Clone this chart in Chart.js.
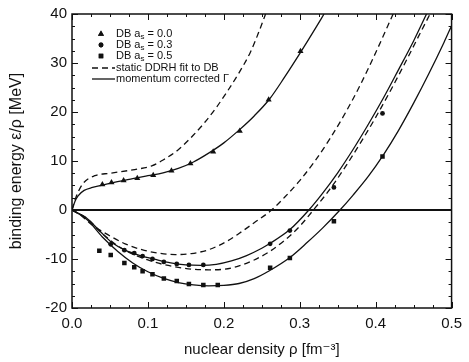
<!DOCTYPE html>
<html>
<head>
<meta charset="utf-8">
<script src="https://cdn.jsdelivr.net/npm/chart.js@4/dist/chart.umd.min.js"></script>
<style>
  html, body { margin: 0; padding: 0; background: #fff; }
  #wrap { width: 469px; height: 362px; }
</style>
</head>
<body>
<div id="wrap"><canvas id="c" width="469" height="362"></canvas></div>
<script>
// tick labels
var xTicks = [0, 0.1, 0.2, 0.3, 0.4, 0.5];
var xTickLabels = ['0.0', '0.1', '0.2', '0.3', '0.4', '0.5'];
var yTicks = [-20, -10, 0, 10, 20, 30, 40];
var yTickLabels = ['-20', '-10', '0', '10', '20', '30', '40'];

// DB points
var rhoTri = [0.040, 0.052, 0.068, 0.086, 0.107, 0.131, 0.156, 0.186, 0.221, 0.259, 0.301];
var dbA00 = [5.2, 5.6, 6.0, 6.5, 7.1, 8.0, 9.5, 11.9, 16.1, 22.5, 32.4];

var rhoDot = [0.051, 0.069, 0.082, 0.093, 0.106, 0.121, 0.138, 0.154, 0.173, 0.261, 0.287, 0.345, 0.409];
var dbA03 = [-7.0, -8.2, -8.8, -9.4, -10.0, -10.6, -11.0, -11.2, -11.2, -6.9, -4.2, 4.6, 19.7];

var rhoSq = [0.036, 0.051, 0.069, 0.082, 0.093, 0.106, 0.121, 0.138, 0.154, 0.173, 0.192, 0.261, 0.287, 0.345, 0.409];
var dbA05 = [-8.3, -9.2, -10.8, -11.7, -12.5, -13.1, -14.0, -14.5, -15.1, -15.3, -15.3, -11.8, -9.8, -2.3, 10.9];

// static DDRH fits (dashed)
var rhoS0 = [0, 0.005, 0.014, 0.03, 0.05, 0.08, 0.105, 0.12, 0.14, 0.16, 0.175, 0.19, 0.205, 0.22, 0.235, 0.245, 0.255];
var fitS0 = [0, 2.5, 5.3, 7.0, 7.5, 8.2, 9.0, 10.2, 12.3, 15.3, 17.9, 20.9, 24.3, 28.0, 32.2, 35.9, 40];

var rhoS3 = [0, 0.01, 0.027, 0.049, 0.07, 0.092, 0.114, 0.136, 0.157, 0.18, 0.205, 0.22, 0.24, 0.263, 0.28, 0.30, 0.32, 0.34, 0.36, 0.38, 0.40, 0.423];
var fitS3 = [0, -0.9, -3.1, -5.2, -6.9, -8.1, -8.8, -9.1, -8.9, -8.1, -6.3, -4.8, -2.6, 0, 2.6, 6.0, 10.0, 14.6, 19.8, 25.6, 32.1, 40];

var rhoS5 = [0, 0.02, 0.04, 0.06, 0.08, 0.1, 0.12, 0.14, 0.16, 0.18, 0.2, 0.22, 0.24, 0.26, 0.28, 0.30, 0.318, 0.34, 0.36, 0.38, 0.40, 0.42, 0.44, 0.46, 0.473];
var fitS5 = [0, -1.8, -4.8, -7.3, -9.0, -10.2, -11.1, -11.7, -12.1, -12.2, -12.1, -11.4, -10.2, -8.5, -6.2, -3.3, 0, 4.3, 8.8, 13.7, 18.9, 24.5, 30.4, 36.5, 40.4];

// momentum corrected (solid)
var rhoC0 = [0, 0.004, 0.008, 0.016, 0.027, 0.04, 0.06, 0.08, 0.10, 0.12, 0.14, 0.16, 0.18, 0.20, 0.22, 0.24, 0.26, 0.28, 0.30, 0.32, 0.332];
var fitC0 = [0, 1.8, 2.9, 4.0, 4.6, 5.1, 5.8, 6.4, 7.0, 7.6, 8.5, 9.8, 11.6, 13.7, 16.3, 19.2, 22.6, 27.1, 31.9, 36.9, 40];

var rhoC3 = [0, 0.018, 0.036, 0.053, 0.07, 0.09, 0.11, 0.13, 0.15, 0.17, 0.19, 0.21, 0.23, 0.25, 0.26, 0.287, 0.312, 0.33, 0.35, 0.37, 0.39, 0.41, 0.43, 0.45, 0.467];
var fitC3 = [0, -1.5, -4.2, -6.7, -8.2, -9.3, -10.1, -10.8, -11.2, -11.3, -11.1, -10.4, -9.3, -7.8, -6.9, -4.0, 0, 3.4, 7.6, 12.3, 17.4, 22.8, 28.6, 34.5, 40];

var rhoC5 = [0, 0.02, 0.04, 0.06, 0.08, 0.1, 0.12, 0.14, 0.16, 0.18, 0.2, 0.22, 0.24, 0.26, 0.287, 0.31, 0.33, 0.353, 0.37, 0.39, 0.41, 0.43, 0.45, 0.47, 0.49, 0.5];
var fitC5 = [0, -2.0, -5.5, -8.4, -10.8, -12.6, -13.9, -14.8, -15.3, -15.5, -15.4, -15.0, -14.0, -12.4, -9.7, -6.6, -3.7, 0, 3.0, 6.8, 11.2, 16.2, 21.8, 27.8, 34.2, 37.6];

var rhoZero = [0, 0.5];
var zeroLine = [0, 0];

function pts(xs, ys) {
  return xs.map(function (x, i) { return { x: x, y: ys[i] }; });
}

var ink = '#111';
var fontFam = '"Liberation Sans", Arial, "DejaVu Sans", sans-serif';

function curve(xs, ys, dashed) {
  return {
    data: pts(xs, ys), showLine: true, pointRadius: 0, borderColor: ink,
    borderWidth: 1.3, borderDash: dashed ? [6, 4] : [], fill: false,
    cubicInterpolationMode: 'monotone'
  };
}
function marks(xs, ys, style, r) {
  return {
    data: pts(xs, ys), showLine: false, pointStyle: style, pointRadius: r,
    backgroundColor: ink, borderColor: ink, borderWidth: 0
  };
}

// inward ticks on all four sides + frame + legend
var frame = {
  id: 'frame',
  afterDatasetsDraw: function (chart) {
    var ctx = chart.ctx, a = chart.chartArea;
    var xs = chart.scales.x, ys = chart.scales.y;
    ctx.save();
    ctx.strokeStyle = ink;
    ctx.lineWidth = 1;
    ctx.beginPath();
    var i, v, p, len;
    for (i = 0; i <= 20; i++) {
      v = i * 0.025;
      p = Math.round(xs.getPixelForValue(v)) + 0.5;
      len = (i % 4 === 0) ? 6 : 3;
      ctx.moveTo(p, a.bottom); ctx.lineTo(p, a.bottom - len);
      ctx.moveTo(p, a.top); ctx.lineTo(p, a.top + len);
    }
    for (i = 0; i <= 24; i++) {
      v = -20 + i * 2.5;
      p = Math.round(ys.getPixelForValue(v)) + 0.5;
      len = (i % 4 === 0) ? 6 : 3;
      ctx.moveTo(a.left, p); ctx.lineTo(a.left + len, p);
      ctx.moveTo(a.right, p); ctx.lineTo(a.right - len, p);
    }
    ctx.stroke();
    ctx.lineWidth = 1.5;
    ctx.strokeRect(a.left, a.top, a.right - a.left, a.bottom - a.top);

    // legend
    var lx = a.left, ty = a.top;
    var rows = [20, 31, 42, 54, 65];
    ctx.fillStyle = ink;
    ctx.textBaseline = 'middle';
    var labels = ['0.0', '0.3', '0.5'];
    var styles = ['triangle', 'circle', 'rect'];
    var radii = [3.5, 2.4, 3.2];
    for (i = 0; i < 3; i++) {
      var cy = ty + rows[i];
      Chart.helpers.drawPoint(ctx, { pointStyle: styles[i], radius: radii[i], borderWidth: 0 }, lx + 29, cy);
      ctx.fill();
      ctx.font = '11px ' + fontFam;
      var tx = lx + 44;
      ctx.fillText('DB a', tx, cy);
      tx += ctx.measureText('DB a').width;
      ctx.font = '8px ' + fontFam;
      ctx.fillText('s', tx, cy + 3);
      tx += ctx.measureText('s').width;
      ctx.font = '11px ' + fontFam;
      ctx.fillText(' = ' + labels[i], tx, cy);
    }
    ctx.lineWidth = 1.3;
    ctx.setLineDash([6, 4]);
    ctx.beginPath();
    ctx.moveTo(lx + 20, ty + rows[3]); ctx.lineTo(lx + 43, ty + rows[3]);
    ctx.stroke();
    ctx.setLineDash([]);
    ctx.beginPath();
    ctx.moveTo(lx + 20, ty + rows[4]); ctx.lineTo(lx + 43, ty + rows[4]);
    ctx.stroke();
    ctx.font = '11px ' + fontFam;
    ctx.fillText('static DDRH fit to DB', lx + 44, ty + rows[3]);
    ctx.fillText('momentum corrected \u0393', lx + 44, ty + rows[4]);
    ctx.restore();
  }
};

var zeroDs = curve(rhoZero, zeroLine, false);
zeroDs.borderWidth = 2;
zeroDs.cubicInterpolationMode = 'default';

new Chart(document.getElementById('c'), {
  type: 'scatter',
  data: {
    datasets: [
      zeroDs,
      curve(rhoS0, fitS0, true),
      curve(rhoS3, fitS3, true),
      curve(rhoS5, fitS5, true),
      curve(rhoC0, fitC0, false),
      curve(rhoC3, fitC3, false),
      curve(rhoC5, fitC5, false),
      marks(rhoTri, dbA00, 'triangle', 3.5),
      marks(rhoDot, dbA03, 'circle', 2.4),
      marks(rhoSq, dbA05, 'rect', 3.2)
    ]
  },
  options: {
    responsive: false,
    animation: false,
    layout: { padding: { top: 12, right: 14, left: 0, bottom: 0 } },
    plugins: { legend: { display: false }, tooltip: { enabled: false } },
    scales: {
      x: {
        type: 'linear', min: 0, max: 0.5,
        grid: { display: false, drawTicks: false },
        border: { display: false },
        afterFit: function (s) { s.height = 54; },
        afterBuildTicks: function (s) { s.ticks = xTicks.map(function (v) { return { value: v }; }); },
        ticks: {
          padding: 7, color: ink, font: { family: fontFam, size: 15 },
          maxRotation: 0,
          callback: function (v) { return xTickLabels[xTicks.indexOf(v)]; }
        },
        title: {
          display: true, text: 'nuclear density \u03c1 [fm\u207b\u00b3]', color: ink,
          font: { family: fontFam, size: 15 }, padding: { top: 0, bottom: 3 }
        }
      },
      y: {
        type: 'linear', min: -20, max: 40,
        grid: { display: false, drawTicks: false },
        border: { display: false },
        afterFit: function (s) { s.width = 72; },
        afterBuildTicks: function (s) { s.ticks = yTicks.map(function (v) { return { value: v }; }); },
        ticks: {
          padding: 5, color: ink, font: { family: fontFam, size: 15 },
          callback: function (v) { return yTickLabels[yTicks.indexOf(v)]; }
        },
        title: {
          display: true, text: 'binding energy \u03b5/\u03c1 [MeV]', color: ink,
          font: { family: fontFam, size: 16 }, padding: { top: 7, bottom: 0 }
        }
      }
    }
  },
  plugins: [frame]
});
</script>
</body>
</html>
